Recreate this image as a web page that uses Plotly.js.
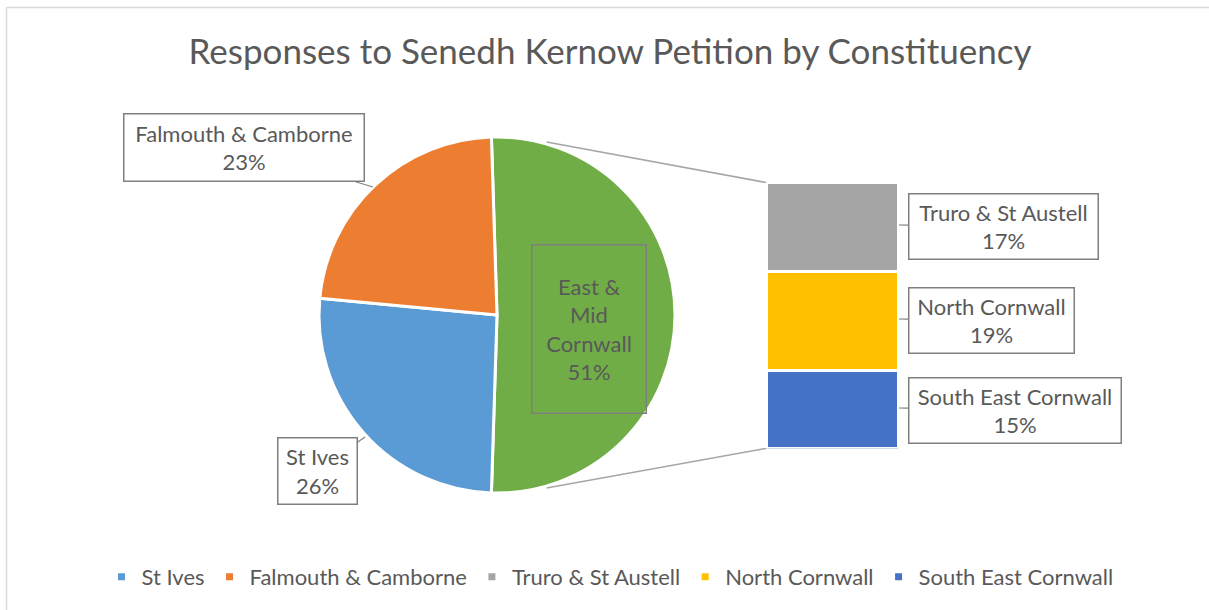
<!DOCTYPE html>
<html>
<head>
<meta charset="utf-8">
<script src="https://cdn.plot.ly/plotly-3.0.1.min.js"></script>
<style>html,body{margin:0;padding:0;background:#fff;}#chart{width:1209px;height:610px;}</style>
</head>
<body>
<div id="chart"></div>
<script>
// ---- data ----
const pieCategories = ['St Ives', 'Falmouth & Camborne'];
const pieValues = [26, 23];
const barCategories = ['Truro & St Austell', 'North Cornwall', 'South East Cornwall'];
const barValues = [17, 19, 15];
const otherLabel = 'East & Mid Cornwall';
const otherLabelWrapped = 'East &<br>Mid<br>Cornwall';
const titleText = 'Responses to Senedh Kernow Petition by Constituency';

// ---- styles ----
const pieColors = ['#5b9bd5', '#ed7d31'];
const otherColor = '#70ad47';
const barColors = ['#a5a5a5', '#ffc000', '#4472c4'];
const textColor = '#595959';
const boxColor = '#7f7f7f';
const FONT = 'Lato, "Open Sans", sans-serif';

const W = 1209, H = 610;
const px = x => x / W;
const py = y => 1 - y / H;

const otherValue = barValues.reduce((a, b) => a + b, 0);
const total = pieValues.reduce((a, b) => a + b, 0) + otherValue;
const pct = v => Math.round(v / total * 100) + '%';

// pie geometry (pixels)
const pcx = 497, pcy = 315, pr = 178;
// bar geometry (pixels)
const bx0 = 766, bx1 = 898, by0 = 182.5, by1 = 448.5;

const traces = [];
traces.push({
  type: 'pie',
  labels: [otherLabel].concat(pieCategories),
  values: [otherValue].concat(pieValues),
  sort: false,
  direction: 'clockwise',
  rotation: 90 - otherValue / total * 180,
  marker: { colors: [otherColor].concat(pieColors), line: { color: '#ffffff', width: 3 } },
  textinfo: 'none',
  hoverinfo: 'label+percent',
  showlegend: false,
  domain: { x: [px(pcx - pr), px(pcx + pr)], y: [py(pcy + pr), py(pcy - pr)] }
});

// stacked bar: bottom to top = South East, North, Truro
for (let i = barCategories.length - 1; i >= 0; i--) {
  traces.push({
    type: 'bar',
    x: [0],
    y: [barValues[i]],
    width: [1],
    name: barCategories[i],
    marker: { color: barColors[i], line: { color: '#ffffff', width: 3 } },
    showlegend: false,
    hoverinfo: 'name+y'
  });
}

// legend entries
const legendNames = pieCategories.concat(barCategories);
const legendColors = pieColors.concat(barColors);
legendNames.forEach((n, i) => {
  traces.push({
    type: 'scatter', mode: 'markers', x: [null], y: [null], name: n,
    marker: { symbol: 'square', size: 7, color: legendColors[i] },
    showlegend: true, hoverinfo: 'skip', legendrank: i + 1
  });
});

// label annotations
const labFont = { family: FONT, size: 22, color: textColor };
function callout(text, cx, cy, w, h, tipX, tipY) {
  return {
    xref: 'paper', yref: 'paper', x: px(tipX), y: py(tipY),
    text: text, showarrow: true, arrowhead: 0, arrowwidth: 1.2, arrowcolor: boxColor,
    ax: cx - tipX, ay: cy - tipY, standoff: 0, startstandoff: 0,
    bordercolor: boxColor, borderwidth: 1.5, borderpad: 0, bgcolor: '#ffffff',
    width: w, height: h, align: 'center', valign: 'middle', font: labFont
  };
}
const annotations = [
  callout(pieCategories[0] + '<br>' + pct(pieValues[0]), 317, 470.5, 78, 65, 365, 437),
  callout(pieCategories[1] + '<br>' + pct(pieValues[1]), 243.5, 148, 239, 66, 373, 187),
  callout(barCategories[0] + '<br>' + pct(barValues[0]), 1003, 226, 188, 64, 899, 225),
  callout(barCategories[1] + '<br>' + pct(barValues[1]), 991, 320, 164, 64, 899, 319),
  callout(barCategories[2] + '<br>' + pct(barValues[2]), 1014.5, 410, 211, 64, 899, 408),
  {
    xref: 'paper', yref: 'paper', x: px(588.5), y: py(328.5), xanchor: 'center', yanchor: 'middle',
    text: otherLabelWrapped + '<br>' + pct(otherValue), showarrow: false,
    bordercolor: boxColor, borderwidth: 1.5, borderpad: 0, width: 113, height: 167,
    align: 'center', valign: 'middle', font: labFont
  }
];

// connector lines from pie edge to bar corners
const angT = 16 * Math.PI / 180, rr = 180;
const shapes = [
  { type: 'line', xref: 'paper', yref: 'paper',
    x0: px(pcx + rr * Math.sin(angT)), y0: py(pcy - rr * Math.cos(angT)), x1: px(bx0), y1: py(by0),
    line: { color: '#a6a6a6', width: 1.5 } },
  { type: 'line', xref: 'paper', yref: 'paper',
    x0: px(pcx + rr * Math.sin(angT)), y0: py(pcy + rr * Math.cos(angT)), x1: px(bx0), y1: py(by1),
    line: { color: '#a6a6a6', width: 1.5 } },
  // chart area border (top / left)
  { type: 'line', xref: 'paper', yref: 'paper', x0: px(6.5), y0: py(7.5), x1: 1, y1: py(7.5),
    line: { color: '#d9d9d9', width: 1.5 } },
  { type: 'line', xref: 'paper', yref: 'paper', x0: px(6.5), y0: py(7.5), x1: px(6.5), y1: 0,
    line: { color: '#d9d9d9', width: 1.5 } }
];

const layout = {
  width: W, height: H,
  margin: { l: 0, r: 0, t: 0, b: 0 },
  paper_bgcolor: '#ffffff', plot_bgcolor: 'rgba(0,0,0,0)',
  title: { text: titleText, x: px(610), xanchor: 'center', y: py(52), yanchor: 'middle',
           font: { family: FONT, size: 35, color: textColor } },
  barmode: 'stack',
  xaxis: { domain: [px(bx0), px(bx1)], range: [-0.5, 0.5], visible: false, fixedrange: true },
  yaxis: { domain: [py(by1), py(by0)], range: [0, otherValue], visible: false, fixedrange: true },
  showlegend: true,
  legend: { orientation: 'h', traceorder: 'normal', x: px(610), xanchor: 'center', y: py(577), yanchor: 'middle',
            font: { family: FONT, size: 22, color: textColor }, itemclick: false, itemdoubleclick: false },
  annotations: annotations,
  shapes: shapes
};

Plotly.newPlot('chart', traces, layout, { displayModeBar: false, staticPlot: true });
</script>
</body>
</html>
